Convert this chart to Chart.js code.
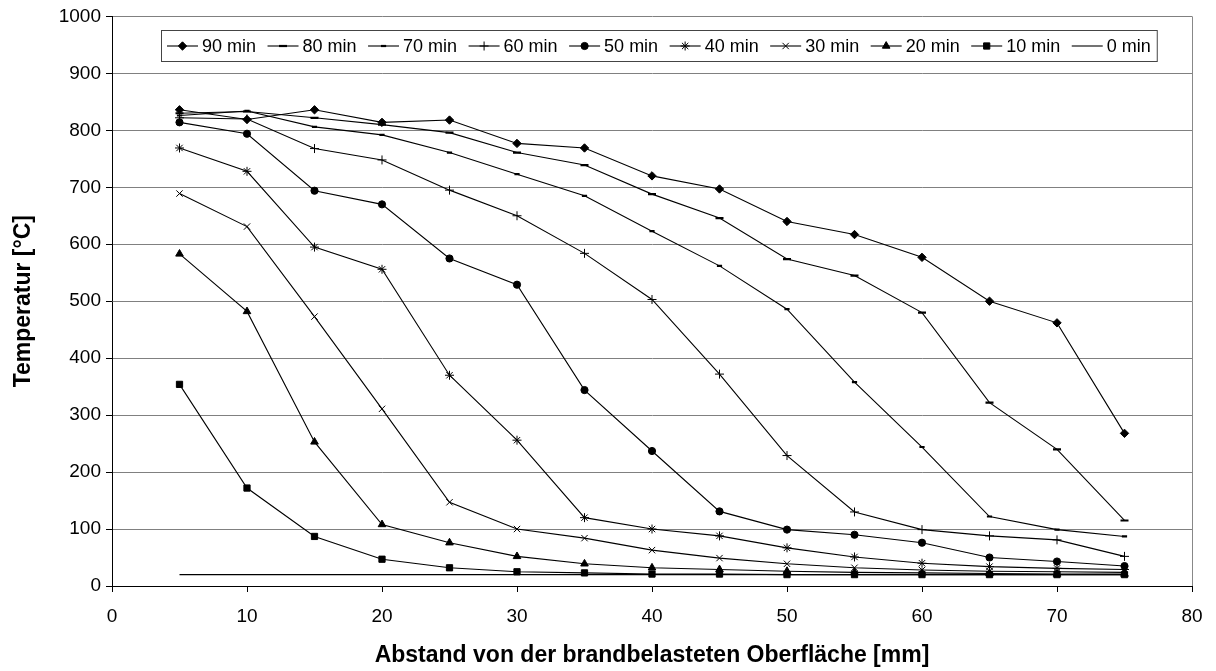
<!DOCTYPE html>
<html>
<head>
<meta charset="utf-8">
<script src="https://cdn.jsdelivr.net/npm/chart.js@4.4.0/dist/chart.umd.min.js"></script>
<style>
  html, body { margin: 0; padding: 0; background: #fff; }
  #wrap { width: 1216px; height: 671px; position: relative; }
</style>
</head>
<body>
<div id="wrap"><canvas id="chart"></canvas></div>
<script>
// Abstand von der Oberfläche [mm]
const distances = [5, 10, 15, 20, 25, 30, 35, 40, 45, 50, 55, 60, 65, 70, 75];

// Temperatur [°C] je Branddauer
const t90 = [836, 819, 836, 814, 818, 777, 769, 720, 697, 640, 617, 577, 500, 462, 268];
const t80 = [830, 833, 822, 810, 796, 761, 739, 688, 646, 574, 545, 480, 322, 240, 115];
const t70 = [826, 834, 806, 792, 761, 723, 685, 623, 562, 486, 358, 244, 122, 99, 87];
const t60 = [822, 820, 768, 748, 695, 650, 584, 503, 372, 229, 130, 99, 88, 81, 52];
const t50 = [814, 794, 694, 670, 575, 529, 344, 237, 131, 99, 90, 76, 50, 43, 35];
const t40 = [769, 728, 595, 556, 370, 256, 120, 100, 88, 67, 51, 40, 34, 31, 29];
const t30 = [689, 631, 473, 311, 147, 100, 84, 63, 49, 39, 32, 28, 26, 25, 24];
const t20 = [583, 482, 253, 108, 76, 52, 39, 32, 29, 26, 24, 23, 22, 21, 21];
const t10 = [354, 172, 87, 47, 32, 25, 23, 21, 21, 20, 20, 20, 20, 20, 20];
const t0  = [20, 20, 20, 20, 20, 20, 20, 20, 20, 20, 20, 20, 20, 20, 20];

const seriesLabels = ["90 min", "80 min", "70 min", "60 min", "50 min", "40 min", "30 min", "20 min", "10 min", "0 min"];
const seriesValues = [t90, t80, t70, t60, t50, t40, t30, t20, t10, t0];

const xTicks = [0, 10, 20, 30, 40, 50, 60, 70, 80];
const yTicks = [0, 100, 200, 300, 400, 500, 600, 700, 800, 900, 1000];

const FONT = '"Liberation Sans", Arial, Helvetica, sans-serif';
Chart.defaults.font.family = FONT;
Chart.defaults.color = "#000";

// marker per series, like the Excel original
const markers = [
  { style: "rectRot", r: 4.2, bw: 1 },
  { style: "line", r: 4, bw: 2.2 },
  { style: "line", r: 2.6, bw: 2.2 },
  { style: "cross", r: 4.5, bw: 1 },
  { style: "circle", r: 3.6, bw: 1 },
  { style: "star", r: 4.5, bw: 1 },
  { style: "crossRot", r: 4.5, bw: 1 },
  { style: "triangle", r: 4.4, bw: 1 },
  { style: "rect", r: 4.4, bw: 1 },
  { style: "circle", r: 0, bw: 0 }
];

const datasets = seriesLabels.map((label, i) => ({
  label: label,
  data: distances.map((d, k) => ({ x: d, y: seriesValues[i][k] })),
  borderColor: "#000",
  backgroundColor: "#000",
  borderWidth: 1.1,
  pointStyle: markers[i].style,
  pointRadius: markers[i].r,
  pointHoverRadius: markers[i].r,
  pointBorderWidth: markers[i].bw,
  pointBackgroundColor: "#000",
  pointBorderColor: "#000",
  tension: 0
}));

// legend drawn inside the plot, in a framed box
const boxLegend = {
  id: "boxLegend",
  afterDraw(chart) {
    const ctx = chart.ctx;
    const drawPoint = Chart.helpers && Chart.helpers.drawPoint;
    ctx.save();
    ctx.font = "18px " + FONT;
    ctx.textBaseline = "middle";
    ctx.textAlign = "left";
    const left = 161, top = 30, bottom = 61, cy = 46;
    let x = 167;
    const items = [];
    chart.data.datasets.forEach(ds => {
      const w = ctx.measureText(ds.label).width;
      items.push({ ds, x, w });
      x += 35 + w + 11.5;
    });
    const right = x - 11.5 + 6;
    ctx.fillStyle = "#fff";
    ctx.fillRect(left, top, right - left, bottom - top);
    ctx.strokeStyle = "#444";
    ctx.lineWidth = 1;
    ctx.strokeRect(left + 0.5, top + 0.5, right - left, bottom - top);
    items.forEach(it => {
      ctx.strokeStyle = "#000";
      ctx.fillStyle = "#000";
      ctx.lineWidth = 1.1;
      ctx.beginPath();
      ctx.moveTo(it.x, cy);
      ctx.lineTo(it.x + 31, cy);
      ctx.stroke();
      if (drawPoint && it.ds.pointRadius > 0) {
        ctx.lineWidth = it.ds.pointBorderWidth;
        drawPoint(ctx, {
          pointStyle: it.ds.pointStyle,
          radius: it.ds.pointRadius,
          borderWidth: it.ds.pointBorderWidth,
          rotation: 0
        }, it.x + 15.5, cy);
      }
      ctx.fillStyle = "#000";
      ctx.fillText(it.ds.label, it.x + 35, cy + 1);
    });
    ctx.restore();
  }
};

new Chart(document.getElementById("chart").getContext("2d"), {
  type: "line",
  data: { datasets: datasets },
  plugins: [boxLegend],
  options: {
    responsive: true,
    maintainAspectRatio: false,
    animation: false,
    layout: { padding: { top: 16, right: 24, left: 0, bottom: 0 } },
    plugins: {
      legend: { display: false },
      tooltip: { enabled: false }
    },
    scales: {
      x: {
        type: "linear",
        min: 0,
        max: 80,
        afterBuildTicks: s => { s.ticks = xTicks.map(v => ({ value: v })); },
        afterFit: s => { s.height = 85; },
        border: { color: "#000", width: 1 },
        grid: {
          drawOnChartArea: true,
          color: c => (c.tick && c.tick.value === 80 ? "#888" : "rgba(0,0,0,0)"),
          tickColor: "#000",
          tickLength: 6
        },
        ticks: { font: { size: 19 }, padding: 13, maxRotation: 0, callback: v => String(v) },
        title: {
          display: true,
          text: "Abstand von der brandbelasteten Oberfläche [mm]",
          font: { size: 23, weight: "bold" },
          padding: { top: 0, bottom: 2 }
        }
      },
      y: {
        min: 0,
        max: 1000,
        afterBuildTicks: s => { s.ticks = yTicks.map(v => ({ value: v })); },
        afterFit: s => { s.width = 112; },
        border: { color: "#000", width: 1 },
        grid: { color: "#808080", tickColor: "#000", tickLength: 6 },
        ticks: { font: { size: 19 }, padding: 5, callback: v => String(v) },
        title: {
          display: true,
          text: "Temperatur [°C]",
          font: { size: 23, weight: "bold" },
          padding: { top: 10, bottom: 0 }
        }
      }
    }
  }
});
</script>
</body>
</html>
